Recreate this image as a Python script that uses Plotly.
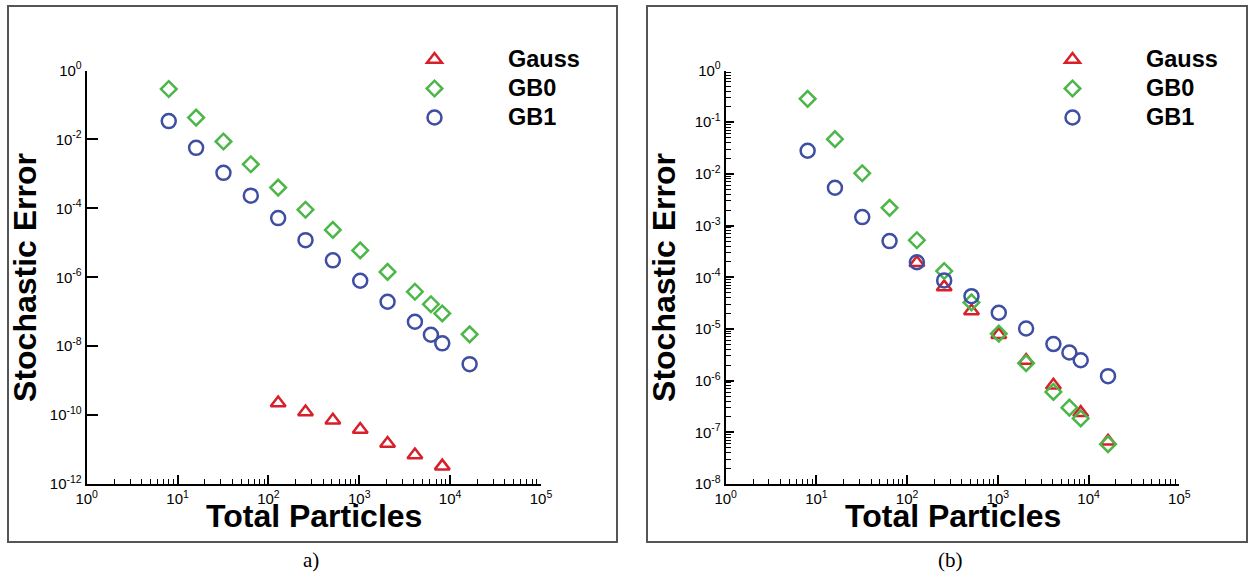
import plotly.graph_objects as go

# ---------------- data ----------------
particles = [8, 16, 32, 64, 128, 256, 512, 1024, 2048, 4096, 6144, 8192, 16384]
gauss_particles_a = [128, 256, 512, 1024, 2048, 4096, 8192]
gauss_particles_b = [128, 256, 512, 1024, 2048, 4096, 8192, 16384]

# panel a)
gauss_a = [2.25e-10, 1.22e-10, 7.1e-11, 3.8e-11, 1.5e-11, 6.9e-12, 3.3e-12]
gb0_a = [0.29, 0.043, 8.7e-3, 1.9e-3, 4.0e-4, 9.1e-5, 2.37e-5, 6.0e-6, 1.43e-6,
         3.8e-7, 1.65e-7, 8.9e-8, 2.2e-8]
gb1_a = [0.034, 5.7e-3, 1.07e-3, 2.33e-4, 5.2e-5, 1.19e-5, 3.1e-6, 7.9e-7, 1.95e-7,
         5.1e-8, 2.14e-8, 1.21e-8, 3.0e-9]

# panel (b)
gauss_b = [1.9e-4, 6.5e-5, 2.23e-5, 7.7e-6, 2.44e-6, 8.1e-7, 2.4e-7, 6.7e-8]
gb0_b = [0.283, 0.047, 0.0103, 2.2e-3, 5.2e-4, 1.32e-4, 3.26e-5, 8.1e-6, 2.18e-6,
         6.05e-7, 3.0e-7, 1.86e-7, 5.9e-8]
gb1_b = [0.028, 5.4e-3, 1.46e-3, 5.0e-4, 1.95e-4, 8.7e-5, 4.3e-5, 2.06e-5, 1.02e-5,
         5.1e-6, 3.5e-6, 2.48e-6, 1.22e-6]

series_names = ["Gauss", "GB0", "GB1"]
x_title = "Total Particles"
y_title = "Stochastic Error"
captions = ["a)", "(b)"]
x_tick_vals = [1, 10, 100, 1000, 10000, 100000]
x_tick_text = ["10<sup>0</sup>", "10<sup>1</sup>", "10<sup>2</sup>", "10<sup>3</sup>",
               "10<sup>4</sup>", "10<sup>5</sup>"]
ya_tick_vals = [1, 1e-2, 1e-4, 1e-6, 1e-8, 1e-10, 1e-12]
ya_tick_text = ["10<sup>0</sup>", "10<sup>-2</sup>", "10<sup>-4</sup>", "10<sup>-6</sup>",
                "10<sup>-8</sup>", "10<sup>-10</sup>", "10<sup>-12</sup>"]
yb_tick_vals = [1, 1e-1, 1e-2, 1e-3, 1e-4, 1e-5, 1e-6, 1e-7, 1e-8]
yb_tick_text = ["10<sup>0</sup>", "10<sup>-1</sup>", "10<sup>-2</sup>", "10<sup>-3</sup>",
                "10<sup>-4</sup>", "10<sup>-5</sup>", "10<sup>-6</sup>", "10<sup>-7</sup>",
                "10<sup>-8</sup>"]

# ---------------- style ----------------
RED = "#d7202a"
GREEN = "#4cb748"
BLUE = "#3d4ea3"
FONT = "Liberation Sans, Arial, sans-serif"
SERIF = "Liberation Serif, Times New Roman, serif"
W, H = 1248, 578


def minor_vals(lo, hi):
    out = []
    for e in range(lo, hi):
        for k in range(2, 10):
            out.append(k * 10.0 ** e)
    return out


def legend_label(name):
    return '<span style="font-size:23.5px">' + name + "</span>"


fig = go.Figure()


def add_series(xs, ys, name, symbol, color, size, xa, ya, legend):
    fig.add_trace(go.Scatter(
        x=xs, y=ys, mode="markers", name=legend_label(name), xaxis=xa, yaxis=ya,
        legend=legend,
        marker=dict(symbol=symbol, size=size, color=color,
                    line=dict(color=color, width=2.5)),
    ))


add_series(gauss_particles_a, gauss_a, series_names[0], "triangle-up-open", RED, 13, "x", "y", "legend")
add_series(particles, gb0_a, series_names[1], "diamond-open", GREEN, 12, "x", "y", "legend")
add_series(particles, gb1_a, series_names[2], "circle-open", BLUE, 14, "x", "y", "legend")

add_series(gauss_particles_b, gauss_b, series_names[0], "triangle-up-open", RED, 13, "x2", "y2", "legend2")
add_series(particles, gb0_b, series_names[1], "diamond-open", GREEN, 12, "x2", "y2", "legend2")
add_series(particles, gb1_b, series_names[2], "circle-open", BLUE, 14, "x2", "y2", "legend2")

axis_common = dict(
    type="log", showline=True, linecolor="black", linewidth=2, mirror=False,
    ticks="inside", tickcolor="black", tickwidth=1.5, showgrid=False, zeroline=False,
    automargin=False,
    tickfont=dict(family=FONT, size=15, color="black"),
)

XA = (86.7, 541.0)
XB = (725.7, 1179.3)
YT, YB = 70.5, 484.0
xa_dom = [XA[0] / W, XA[1] / W]
xb_dom = [XB[0] / W, XB[1] / W]
y_dom = [1 - YB / H, 1 - YT / H]

minor_x = dict(tickmode="array", tickvals=minor_vals(0, 5), ticks="inside",
               ticklen=5, tickcolor="black", tickwidth=1)

legend_common = dict(xanchor="left", yanchor="top", bgcolor="rgba(0,0,0,0)",
                     itemwidth=137, tracegroupgap=0,
                     font=dict(family=FONT, size=20, color="black", weight="bold"))


def title_annotations(xr):
    cx = (xr[0] + xr[1]) / 2
    return [
        dict(text=x_title, xref="paper", yref="paper", x=cx / W, y=1 - 516 / H,
             xanchor="center", yanchor="middle", showarrow=False,
             font=dict(family=FONT, size=32, color="black", weight="bold")),
        dict(text=y_title, xref="paper", yref="paper", x=(xr[0] - 61) / W,
             y=1 - (YT + YB) / 2 / H, xanchor="center", yanchor="middle",
             textangle=-90, showarrow=False,
             font=dict(family=FONT, size=32, color="black", weight="bold")),
    ]


fig.update_layout(
    width=W, height=H, margin=dict(l=0, r=0, t=0, b=0, autoexpand=False),
    paper_bgcolor="white", plot_bgcolor="white",
    xaxis=dict(axis_common, domain=xa_dom, anchor="y", range=[0, 5],
               tickmode="array", tickvals=x_tick_vals, ticktext=x_tick_text, ticklen=9,
               minor=minor_x),
    yaxis=dict(axis_common, domain=y_dom, anchor="x", range=[-12, 0],
               tickmode="array", tickvals=ya_tick_vals, ticktext=ya_tick_text, ticklen=11),
    xaxis2=dict(axis_common, domain=xb_dom, anchor="y2", range=[0, 5],
                tickmode="array", tickvals=x_tick_vals, ticktext=x_tick_text, ticklen=9,
                minor=minor_x),
    yaxis2=dict(axis_common, domain=y_dom, anchor="x2", range=[-8, 0],
                tickmode="array", tickvals=yb_tick_vals, ticktext=yb_tick_text, ticklen=8,
                minor=dict(tickmode="array", tickvals=minor_vals(-8, 0), ticks="inside",
                           ticklen=5, tickcolor="black", tickwidth=1)),
    legend=dict(legend_common, x=361 / W, y=1 - 40 / H),
    legend2=dict(legend_common, x=999 / W, y=1 - 40 / H),
    shapes=[
        dict(type="rect", xref="paper", yref="paper", x0=8 / W, x1=617 / W,
             y0=1 - 542 / H, y1=1 - 6 / H, line=dict(color="#555555", width=2)),
        dict(type="rect", xref="paper", yref="paper", x0=647 / W, x1=1247 / W,
             y0=1 - 542 / H, y1=1 - 6 / H, line=dict(color="#555555", width=2)),
    ],
    annotations=title_annotations(XA) + title_annotations(XB) + [
        dict(text=captions[0], xref="paper", yref="paper", x=311 / W, y=1 - 560 / H,
             xanchor="center", yanchor="middle", showarrow=False,
             font=dict(family=SERIF, size=21, color="black")),
        dict(text=captions[1], xref="paper", yref="paper", x=950 / W, y=1 - 560 / H,
             xanchor="center", yanchor="middle", showarrow=False,
             font=dict(family=SERIF, size=21, color="black")),
    ],
)

fig.write_html(
    "out.html",
    config={"displayModeBar": False},
    post_script="document.body.style.margin='0px';document.body.style.overflow='hidden';",
)
